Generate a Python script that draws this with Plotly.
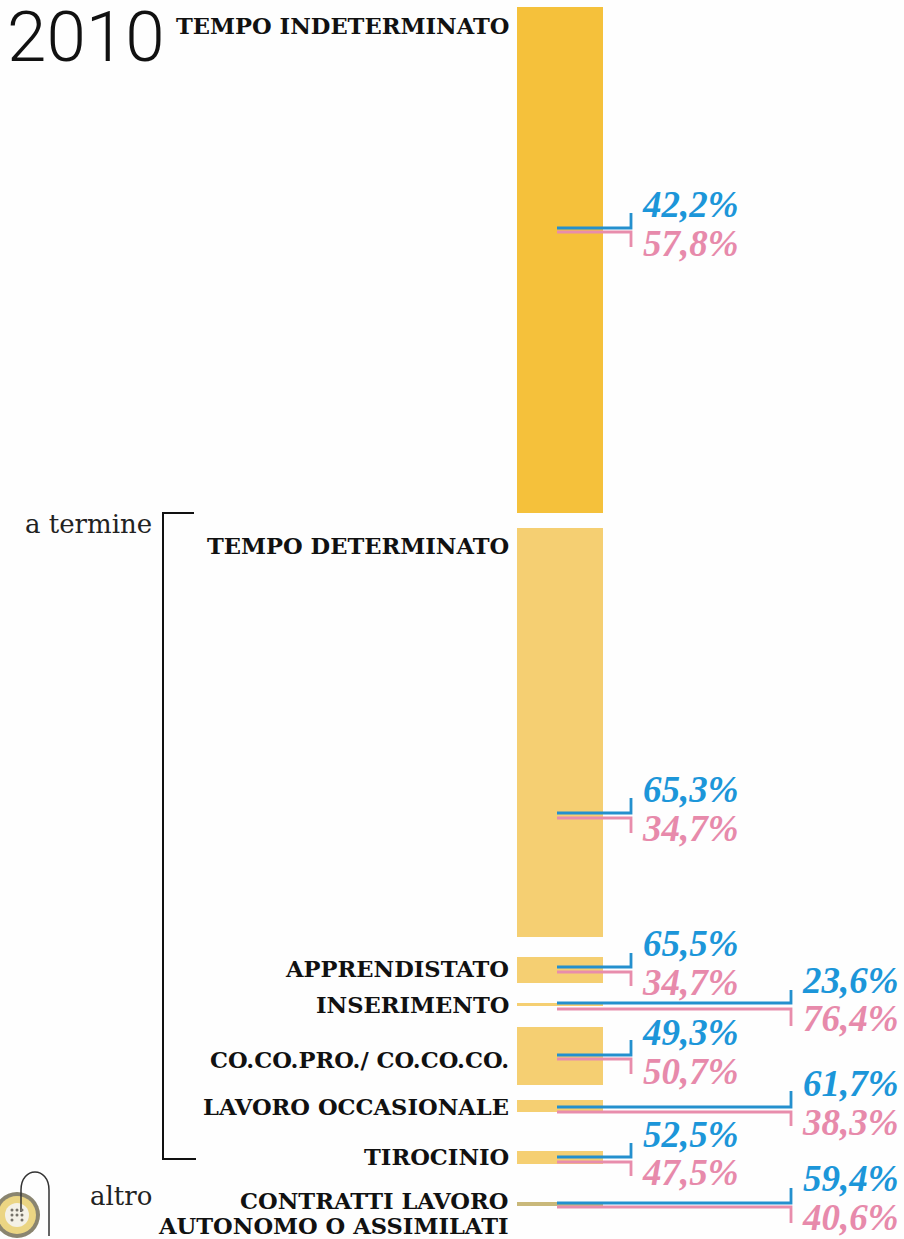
import plotly.graph_objects as go

# ---- data ----
year = "2010"
categories = ["TEMPO INDETERMINATO", "TEMPO DETERMINATO", "APPRENDISTATO", "INSERIMENTO",
              "CO.CO.PRO./ CO.CO.CO.", "LAVORO OCCASIONALE", "TIROCINIO",
              "CONTRATTI LAVORO<br>AUTONOMO O ASSIMILATI"]
bar_size = [506, 409, 26, 3, 58, 12, 13, 4]
men_pct = [42.2, 65.3, 65.5, 23.6, 49.3, 61.7, 52.5, 59.4]
women_pct = [57.8, 34.7, 34.7, 76.4, 50.7, 38.3, 47.5, 40.6]
bar_colors = ["#F5C13B", "#F5CF72", "#F5CF72", "#F5CF72", "#F5CF72", "#F5CF72", "#F5CF72", "#C9B87A"]

# ---- layout of the page (in pixels) ----
W, H = 904, 1239
bar_top = [7, 528, 957, 1003, 1027, 1100, 1151, 1202]
bar_left, bar_right = 517, 603
label_y = [[26], [546], [969], [1005], [1060], [1107], [1157], [1201, 1226]]
blue_y = [228, 813, 967, 1003, 1055, 1107, 1157, 1203]
pink_y = [232, 818, 972, 1009, 1059, 1112, 1162, 1207]
blue_up = [213, 798, 953, 990, 1040, 1091, 1143, 1188]
pink_down = [247, 833, 986, 1026, 1074, 1126, 1176, 1223]
conn_end = [631, 631, 631, 791, 631, 791, 631, 791]
conn_start = 557
blue_txt_y = [204, 789, 943, 980, 1032, 1083, 1134, 1178]
pink_txt_y = [243, 828, 982, 1018, 1071, 1122, 1172, 1217]
BLUE, PINK = "#2490CE", "#E88DAC"
BLUE_T, PINK_T = "#1C96D9", "#E78AAB"
SLAB = "'DejaVu Serif',serif"
PCT = "'Liberation Serif',serif"

fig = go.Figure()
fig.add_trace(go.Bar(
    x=[(bar_left + bar_right) / 2] * len(bar_size), y=bar_size, base=bar_top,
    width=bar_right - bar_left, marker=dict(color=bar_colors, line_width=0),
    hoverinfo="skip", showlegend=False))

for i in range(len(categories)):
    fig.add_trace(go.Scatter(x=[conn_start, conn_end[i], conn_end[i]], y=[blue_y[i], blue_y[i], blue_up[i]],
                             mode="lines", line=dict(color=BLUE, width=2.8), hoverinfo="skip", showlegend=False))
    fig.add_trace(go.Scatter(x=[conn_start, conn_end[i], conn_end[i]], y=[pink_y[i], pink_y[i], pink_down[i]],
                             mode="lines", line=dict(color=PINK, width=2.8), hoverinfo="skip", showlegend=False))

# bracket
fig.add_trace(go.Scatter(x=[194, 163, 163, 196], y=[513, 513, 1159, 1159], mode="lines",
                         line=dict(color="#111111", width=2), hoverinfo="skip", showlegend=False))
# button with its thread
for r, fill in [(23, "#8A8570"), (19, "#EBD583"), (12, "#F4F1E6")]:
    fig.add_shape(type="circle", x0=17 - r, x1=17 + r, y0=1215 - r, y1=1215 + r,
                  fillcolor=fill, line_width=0, layer="below")
fig.add_shape(type="path", path="M 21 1212 L 21 1190 C 21 1166, 49 1166, 49 1190 L 49 1236",
              line=dict(color="#333333", width=1.5), layer="below")
fig.add_trace(go.Scatter(x=[12, 17, 22, 12, 17, 22, 12, 22], y=[1210, 1210, 1210, 1215, 1215, 1215, 1220, 1220],
                         mode="markers", marker=dict(size=3, color="#77736A"), hoverinfo="skip", showlegend=False))


def note(x, y, text, size, color, family, weight=400, style="normal"):
    fig.add_annotation(x=x, y=y, text=text, showarrow=False, xanchor="right", yanchor="middle",
                       xref="x", yref="y", align="right",
                       font=dict(size=size, color=color, family=family, weight=weight, style=style))


for i, c in enumerate(categories):
    for line, ly in zip(c.split("<br>"), label_y[i]):
        note(511, ly, line, 22.6, "#111111", SLAB, weight=700)
    tx = 741 if conn_end[i] == 631 else 901
    note(tx, blue_txt_y[i], f"{men_pct[i]:.1f}".replace(".", ",") + "%", 37, BLUE_T, PCT, weight=700, style="italic")
    note(tx, pink_txt_y[i], f"{women_pct[i]:.1f}".replace(".", ",") + "%", 37, PINK_T, PCT, weight=700, style="italic")

note(167, 36, year, 71, "#111111", "Roboto, Lato, sans-serif", weight=300)
note(154, 524, "a termine", 26, "#222222", SLAB)
note(154, 1196, "altro", 26, "#222222", SLAB)

fig.update_layout(
    width=W, height=H, margin=dict(l=0, r=0, t=0, b=0), paper_bgcolor="#FEFEFE", plot_bgcolor="#FEFEFE",
    barmode="overlay", showlegend=False,
    xaxis=dict(range=[0, W], visible=False, fixedrange=True),
    yaxis=dict(range=[H, 0], visible=False, fixedrange=True))
fig.write_html("out.html", config={"displayModeBar": False},
               post_script="document.body.style.margin='0';document.body.style.overflow='hidden';")
